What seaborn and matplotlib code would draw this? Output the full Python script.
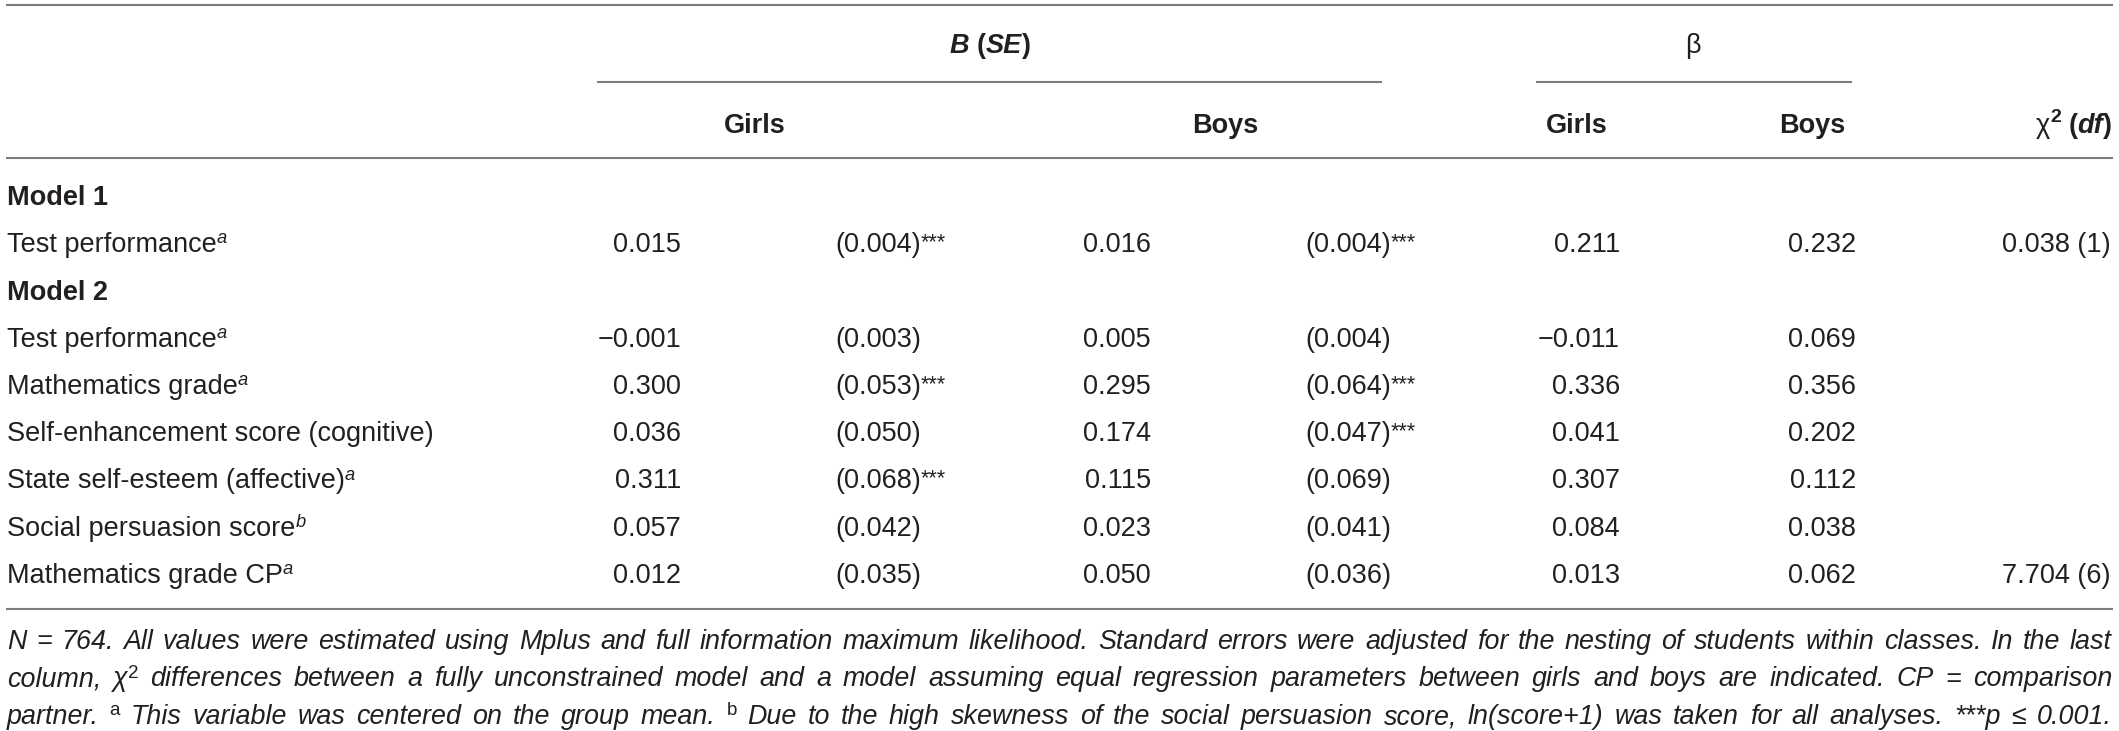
import matplotlib
matplotlib.use('Agg')
import matplotlib.pyplot as plt
import seaborn as sns

# ---- table content ----
row_labels = ['Model 1', 'Test performance', 'Model 2', 'Test performance',
              'Mathematics grade', 'Self-enhancement score (cognitive)',
              'State self-esteem (affective)', 'Social persuasion score',
              'Mathematics grade CP']
label_sups = ['', 'a', '', 'a', 'a', '', 'a', 'b', 'a']
model_rows = [True, False, True, False, False, False, False, False, False]

girls_b = ['', '0.015', '', '\u22120.001', '0.300', '0.036', '0.311', '0.057', '0.012']
girls_se = ['', '(0.004)', '', '(0.003)', '(0.053)', '(0.050)', '(0.068)', '(0.042)', '(0.035)']
girls_stars = ['', '***', '', '', '***', '', '***', '', '']
boys_b = ['', '0.016', '', '0.005', '0.295', '0.174', '0.115', '0.023', '0.050']
boys_se = ['', '(0.004)', '', '(0.004)', '(0.064)', '(0.047)', '(0.069)', '(0.041)', '(0.036)']
boys_stars = ['', '***', '', '', '***', '***', '', '', '']
beta_girls = ['', '0.211', '', '\u22120.011', '0.336', '0.041', '0.307', '0.084', '0.013']
beta_boys = ['', '0.232', '', '0.069', '0.356', '0.202', '0.112', '0.038', '0.062']
chi2_df = ['', '0.038 (1)', '', '', '', '', '', '', '7.704 (6)']

note_lines = [
    'N = 764. All values were estimated using Mplus and full information maximum likelihood. '
    'Standard errors were adjusted for the nesting of students within classes. In the last',
    'column, \u03c7^2 differences between a fully unconstrained model and a model assuming equal '
    'regression parameters between girls and boys are indicated. CP = comparison',
    'partner. ^a This variable was centered on the group mean. ^b Due to the high skewness of the '
    'social persuasion score, ln(score+1) was taken for all analyses. ***p \u2264 0.001.',
]

sns.set_theme(style='white')
plt.rcParams['font.family'] = ['Liberation Sans', 'DejaVu Sans']

W, H = 2119, 731
fig = plt.figure(figsize=(W / 100, H / 100), dpi=100)
ax = fig.add_axes([0, 0, 1, 1])
ax.set_xlim(0, W)
ax.set_ylim(H, 0)
ax.axis('off')
renderer = fig.canvas.get_renderer()

TXT = '#231f20'
RULE = '#7c7c7c'
FS = 19.5
NOTE_FS = 19.4


def text_width(s, size, weight='normal', style='normal'):
    t = ax.text(0, 0, s, fontsize=size, fontweight=weight, fontstyle=style)
    w = t.get_window_extent(renderer).width
    t.remove()
    return w


def space_width(size, weight='normal', style='normal'):
    return text_width('a a', size, weight, style) - text_width('aa', size, weight, style)


def run(s, size=FS, weight='normal', style='normal', rise=0):
    return (s, size, weight, style, rise)


def runs_width(runs):
    tot = 0
    for s, size, weight, style, rise in runs:
        if s == ' ':
            tot += space_width(size, weight, style)
        else:
            tot += text_width(s, size, weight, style)
    return tot


def draw_runs(x, y, runs, ha='left'):
    total = runs_width(runs)
    if ha == 'right':
        x = x - total
    elif ha == 'center':
        x = x - total / 2
    for s, size, weight, style, rise in runs:
        if s == ' ':
            x += space_width(size, weight, style)
            continue
        ax.text(x, y - rise, s, fontsize=size, fontweight=weight, fontstyle=style,
                color=TXT, ha='left', va='baseline')
        x += text_width(s, size, weight, style)


# ---- rules ----
ax.hlines([5, 158, 609], 6, 2113, color=RULE, lw=1.5)
ax.hlines(82, 597, 1382, color=RULE, lw=1.5)
ax.hlines(82, 1536, 1852, color=RULE, lw=1.5)

# ---- header ----
draw_runs(990, 53, [run('B', weight='bold', style='italic'), run(' ', weight='bold'),
                    run('(', weight='bold'), run('SE', weight='bold', style='italic'),
                    run(')', weight='bold')], ha='center')
draw_runs(1693, 53, [run('\u03b2')], ha='center')
for cx, lab in zip([755, 1225, 1577, 1812], ['Girls', 'Boys', 'Girls', 'Boys']):
    draw_runs(cx, 133, [run(lab, weight='bold')], ha='center')
draw_runs(2112, 133, [run('\u03c7'), run('2', size=FS * 0.72, weight='bold', rise=11),
                      run(' ', weight='bold'), run('(', weight='bold'),
                      run('df', weight='bold', style='italic'), run(')', weight='bold')],
          ha='right')

# ---- body ----
y0, dy = 205, 47.25
for i, lab in enumerate(row_labels):
    y = y0 + i * dy
    if model_rows[i]:
        draw_runs(7, y, [run(lab, weight='bold')])
        continue
    lab_runs = [run(lab)]
    if label_sups[i]:
        lab_runs.append(run(label_sups[i], size=FS * 0.68, style='italic', rise=9))
    draw_runs(7, y, lab_runs)

    draw_runs(681, y, [run(girls_b[i])], ha='right')
    se_runs = [run(girls_se[i])]
    if girls_stars[i]:
        se_runs.append(run(girls_stars[i], size=FS * 0.8, rise=4))
    draw_runs(835, y, se_runs)

    draw_runs(1151, y, [run(boys_b[i])], ha='right')
    se_runs = [run(boys_se[i])]
    if boys_stars[i]:
        se_runs.append(run(boys_stars[i], size=FS * 0.8, rise=4))
    draw_runs(1305, y, se_runs)

    draw_runs(1620, y, [run(beta_girls[i])], ha='right')
    draw_runs(1856, y, [run(beta_boys[i])], ha='right')
    if chi2_df[i]:
        draw_runs(2111, y, [run(chi2_df[i])], ha='right')

# ---- notes (justified) ----
note_left, note_right = 7, 2112
for li, line in enumerate(note_lines):
    y = 649 + li * 37.5
    words = []
    for w in line.split(' '):
        if '^' in w:
            base, sup = w.split('^')
            wr = []
            if base:
                wr.append(run(base, size=NOTE_FS, style='italic'))
            wr.append(run(sup, size=NOTE_FS * 0.7, rise=9))
        else:
            wr = [run(w, size=NOTE_FS, style='italic')]
        words.append(wr)
    widths = [runs_width(wr) for wr in words]
    gap = (note_right - note_left - sum(widths)) / (len(words) - 1)
    x = note_left
    for wr, wd in zip(words, widths):
        draw_runs(x, y, wr)
        x += wd + gap

fig.savefig('out.png', dpi=100, facecolor='white')
